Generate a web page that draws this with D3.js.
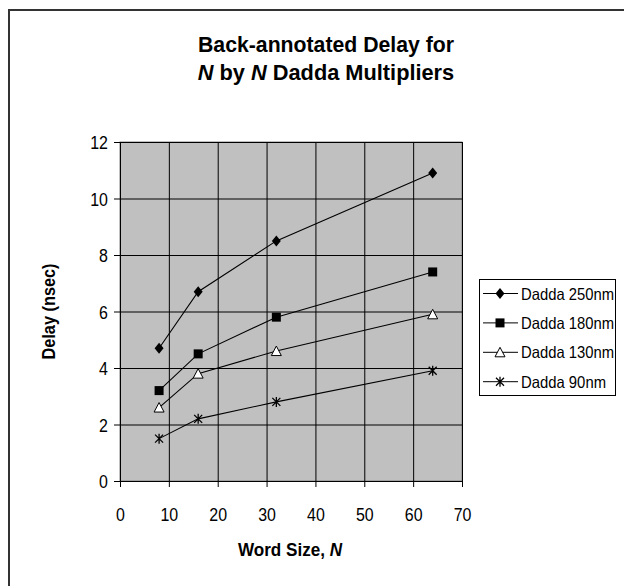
<!DOCTYPE html>
<html>
<head>
<meta charset="utf-8">
<script src="https://cdn.jsdelivr.net/npm/d3@7"></script>
<style>
  body { margin: 0; background: #fff; }
  text { font-family: "Liberation Sans", Arial, sans-serif; fill: #000; }
</style>
</head>
<body>
<div id="chart"></div>
<script>
// word sizes on x axis
const wordSizes = [8, 16, 32, 64];
// delays in nsec per technology
const delay250 = [4.7, 6.7, 8.5, 10.9];
const delay180 = [3.2, 4.5, 5.8, 7.4];
const delay130 = [2.6, 3.8, 4.6, 5.9];
const delay90 = [1.5, 2.2, 2.8, 3.9];
const seriesNames = ["Dadda 250nm", "Dadda 180nm", "Dadda 130nm", "Dadda 90nm"];
const xTicks = [0, 10, 20, 30, 40, 50, 60, 70];
const yTicks = [0, 2, 4, 6, 8, 10, 12];

const series = [
  { name: seriesNames[0], values: delay250, marker: "diamond" },
  { name: seriesNames[1], values: delay180, marker: "square" },
  { name: seriesNames[2], values: delay130, marker: "triangle" },
  { name: seriesNames[3], values: delay90, marker: "star" }
];

const width = 624, height = 586;
const plot = { left: 120, right: 462, top: 142, bottom: 481 };
// the picture's text is a bit narrower than plain Arial
const squeeze = 0.84;

const svg = d3.select("#chart")
  .append("svg")
  .attr("width", width)
  .attr("height", height);

// outer chart border (runs off the page right and bottom)
svg.append("rect")
  .attr("x", 9).attr("y", 10)
  .attr("width", width + 20).attr("height", height + 20)
  .attr("fill", "#fff")
  .attr("stroke", "#333")
  .attr("stroke-width", 2);

const x = d3.scaleLinear().domain([0, 70]).range([plot.left, plot.right]);
const y = d3.scaleLinear().domain([0, 12]).range([plot.bottom, plot.top]);

// plot background
svg.append("rect")
  .attr("x", plot.left).attr("y", plot.top)
  .attr("width", plot.right - plot.left)
  .attr("height", plot.bottom - plot.top)
  .attr("fill", "#c0c0c0")
  .attr("stroke", "#808080");

// grid lines
svg.append("g")
  .attr("transform", "translate(0," + plot.bottom + ")")
  .call(d3.axisBottom(x).tickValues(xTicks).tickSize(-(plot.bottom - plot.top)).tickFormat(""))
  .call(g => g.select(".domain").remove())
  .call(g => g.selectAll("line").attr("stroke", "#000"));

svg.append("g")
  .attr("transform", "translate(" + plot.left + ",0)")
  .call(d3.axisLeft(y).tickValues(yTicks).tickSize(-(plot.right - plot.left)).tickFormat(""))
  .call(g => g.select(".domain").remove())
  .call(g => g.selectAll("line").attr("stroke", "#000"));

// axes
const xAxis = svg.append("g")
  .attr("transform", "translate(0," + plot.bottom + ")")
  .call(d3.axisBottom(x).tickValues(xTicks).tickSizeOuter(0).tickSize(6));
xAxis.select(".domain").attr("stroke", "#000");
xAxis.selectAll("text")
  .attr("y", 40).attr("dy", 0)
  .attr("transform", "scale(" + squeeze + ",1)")
  .style("font-size", "19px");

const yAxis = svg.append("g")
  .attr("transform", "translate(" + plot.left + ",0)")
  .call(d3.axisLeft(y).tickValues(yTicks).tickSizeOuter(0).tickSize(6));
yAxis.select(".domain").attr("stroke", "#000");
yAxis.selectAll("text")
  .attr("x", -12 / squeeze).attr("dy", "0.35em")
  .attr("transform", "scale(" + squeeze + ",1)")
  .style("font-size", "19px");

// titles
const title = svg.append("g")
  .style("font-size", "22px")
  .style("font-weight", "bold");
title.append("text")
  .attr("x", 326).attr("y", 52)
  .attr("text-anchor", "middle")
  .attr("textLength", 256).attr("lengthAdjust", "spacingAndGlyphs")
  .text("Back-annotated Delay for");
const t2 = title.append("text")
  .attr("transform", "translate(326,80) scale(0.99,1)")
  .attr("text-anchor", "middle");
t2.append("tspan").style("font-style", "italic").text("N");
t2.append("tspan").text(" by ");
t2.append("tspan").style("font-style", "italic").text("N");
t2.append("tspan").text(" Dadda Multipliers");

const xTitle = svg.append("text")
  .attr("transform", "translate(290,556) scale(0.9,1)")
  .attr("text-anchor", "middle")
  .style("font-size", "19px")
  .style("font-weight", "bold");
xTitle.append("tspan").text("Word Size, ");
xTitle.append("tspan").style("font-style", "italic").text("N");

svg.append("text")
  .attr("transform", "translate(55," + ((plot.top + plot.bottom) / 2) + ") rotate(-90)")
  .attr("text-anchor", "middle")
  .attr("textLength", 96).attr("lengthAdjust", "spacingAndGlyphs")
  .style("font-size", "18px")
  .style("font-weight", "bold")
  .text("Delay (nsec)");

// marker drawing
function drawMarker(g, type) {
  if (type === "diamond") {
    g.append("path").attr("d", "M0,-5.5L4.5,0L0,5.5L-4.5,0Z").attr("fill", "#000");
  } else if (type === "square") {
    g.append("rect").attr("x", -4.5).attr("y", -4.5).attr("width", 9).attr("height", 9).attr("fill", "#000");
  } else if (type === "triangle") {
    g.append("path").attr("d", "M0,-5L5,4.5L-5,4.5Z").attr("fill", "#fff").attr("stroke", "#000").attr("stroke-width", 1);
  } else {
    g.append("path").attr("d", "M-4,-4L4,4M-4,4L4,-4M0,-5L0,5").attr("stroke", "#000").attr("stroke-width", 1.3).attr("fill", "none");
  }
}

const line = d3.line().x((d, i) => x(wordSizes[i])).y(d => y(d));

series.forEach(s => {
  svg.append("path")
    .datum(s.values)
    .attr("d", line)
    .attr("fill", "none")
    .attr("stroke", "#000")
    .attr("stroke-width", 1.1);
  s.values.forEach((v, i) => {
    const g = svg.append("g").attr("transform", "translate(" + x(wordSizes[i]) + "," + y(v) + ")");
    drawMarker(g, s.marker);
  });
});

// legend
const legend = svg.append("g");
legend.append("rect")
  .attr("x", 479.5).attr("y", 279.5)
  .attr("width", 136).attr("height", 116)
  .attr("fill", "#fff")
  .attr("stroke", "#000");

const legendWidths = [93, 93, 93, 85];
series.forEach((s, i) => {
  const cy = 293.5 + i * 29.4;
  legend.append("line")
    .attr("x1", 483).attr("x2", 518)
    .attr("y1", cy).attr("y2", cy)
    .attr("stroke", "#000");
  drawMarker(legend.append("g").attr("transform", "translate(500," + cy + ")"), s.marker);
  legend.append("text")
    .attr("x", 521).attr("y", cy + 6)
    .attr("textLength", legendWidths[i]).attr("lengthAdjust", "spacingAndGlyphs")
    .style("font-size", "16.5px")
    .text(s.name);
});
</script>
</body>
</html>
